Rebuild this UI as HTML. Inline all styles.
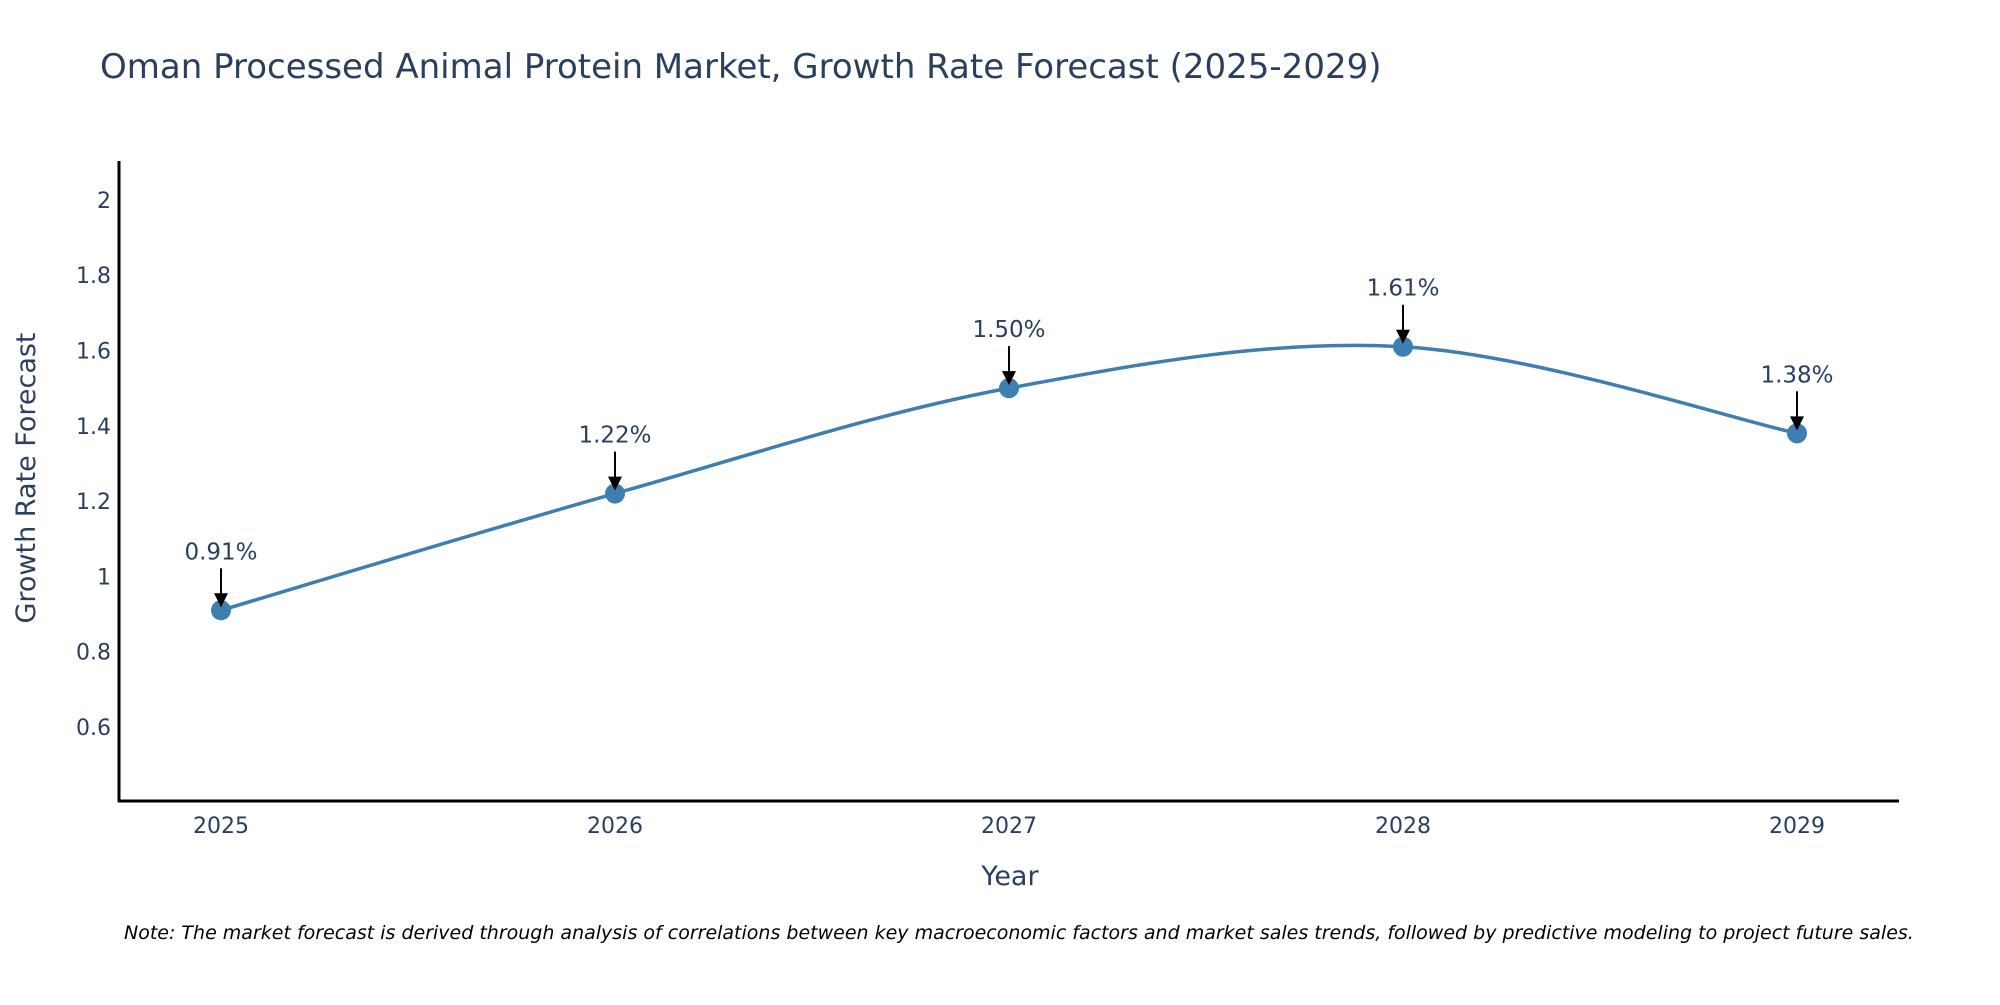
<!DOCTYPE html>
<html><head><meta charset="utf-8"><style>
body{margin:0;background:#fff;}
svg text{font-family:"DejaVu Sans","Liberation Sans",sans-serif;fill:#2a3f5f;}
</style></head><body>
<svg id="chart" width="2000" height="1000" viewBox="0 0 2000 1000" xmlns="http://www.w3.org/2000/svg">
<rect width="2000" height="1000" fill="#fff"/>
<text x="100" y="78" font-size="34">Oman Processed Animal Protein Market, Growth Rate Forecast (2025-2029)</text>
<g id="yticks"></g><g id="xticks"></g>
<line x1="119" y1="161" x2="119" y2="802" stroke="#000" stroke-width="3"/>
<line x1="118" y1="801" x2="1899" y2="801" stroke="#000" stroke-width="3"/>
<text transform="translate(35,478) rotate(-90)" text-anchor="middle" font-size="27">Growth Rate Forecast</text>
<text x="1010" y="885" text-anchor="middle" font-size="27">Year</text>
<g id="series"></g>
<text x="124" y="939" font-size="19" font-style="italic" style="fill:#000">Note: The market forecast is derived through analysis of correlations between key macroeconomic factors and market sales trends, followed by predictive modeling to project future sales.</text>
</svg>
<script>
const years = [2025, 2026, 2027, 2028, 2029];
const growth = [0.91, 1.22, 1.50, 1.61, 1.38];
const labels = ["0.91%", "1.22%", "1.50%", "1.61%", "1.38%"];
const yTicks = [0.6, 0.8, 1, 1.2, 1.4, 1.6, 1.8, 2];
const yTickLabels = ["0.6", "0.8", "1", "1.2", "1.4", "1.6", "1.8", "2"];

const NS = "http://www.w3.org/2000/svg";
function xs(v){ return 221 + (v - 2025) * 394; }
function ys(v){ return 727 - (v - 0.6) / 0.2 * 75.3; }
function mk(tag, attrs, parent){ const e = document.createElementNS(NS, tag); for (const k in attrs) e.setAttribute(k, attrs[k]); parent.appendChild(e); return e; }

const yg = document.getElementById('yticks');
yTicks.forEach((t, i) => {
  const e = mk('text', {x: 111, y: ys(t) + 8, 'text-anchor': 'end', 'font-size': 22}, yg);
  
  
  e.textContent = yTickLabels[i];
});
const xg = document.getElementById('xticks');
years.forEach(y => {
  const e = mk('text', {x: xs(y), y: 833, 'text-anchor': 'middle', 'font-size': 22}, xg);
  
  
  e.textContent = String(y);
});

const sg = document.getElementById('series');
const pts = years.map((y, i) => [xs(y), ys(growth[i])]);
let d = 'M' + pts[0][0] + ',' + pts[0][1];
for (let i = 0; i < pts.length - 1; i++) {
  const p0 = pts[Math.max(i - 1, 0)], p1 = pts[i], p2 = pts[i + 1], p3 = pts[Math.min(i + 2, pts.length - 1)];
  const c1 = [p1[0] + (p2[0] - p0[0]) / 6, p1[1] + (p2[1] - p0[1]) / 6];
  const c2 = [p2[0] - (p3[0] - p1[0]) / 6, p2[1] - (p3[1] - p1[1]) / 6];
  d += ' C' + c1 + ' ' + c2 + ' ' + p2;
}
const line = mk('path', {d: d, fill: 'none', stroke: '#3d7fb0', 'stroke-width': 3.5}, sg);


pts.forEach((p, i) => {
  const c = mk('circle', {cx: p[0], cy: p[1], r: 10, fill: '#3d7fb0'}, sg);
  
  
  const a = mk('line', {x1: p[0], y1: p[1] - 42, x2: p[0], y2: p[1] - 16, stroke: '#000', 'stroke-width': 2}, sg);
  
  
  const h = mk('polygon', {points: (p[0]-7)+','+(p[1]-17)+' '+(p[0]+7)+','+(p[1]-17)+' '+p[0]+','+(p[1]-3), fill: '#000'}, sg);
  
  
  const t = mk('text', {x: p[0], y: p[1] - 51, 'text-anchor': 'middle', 'font-size': 23}, sg);
  
  
  t.textContent = labels[i];
});
</script>
</body></html>
